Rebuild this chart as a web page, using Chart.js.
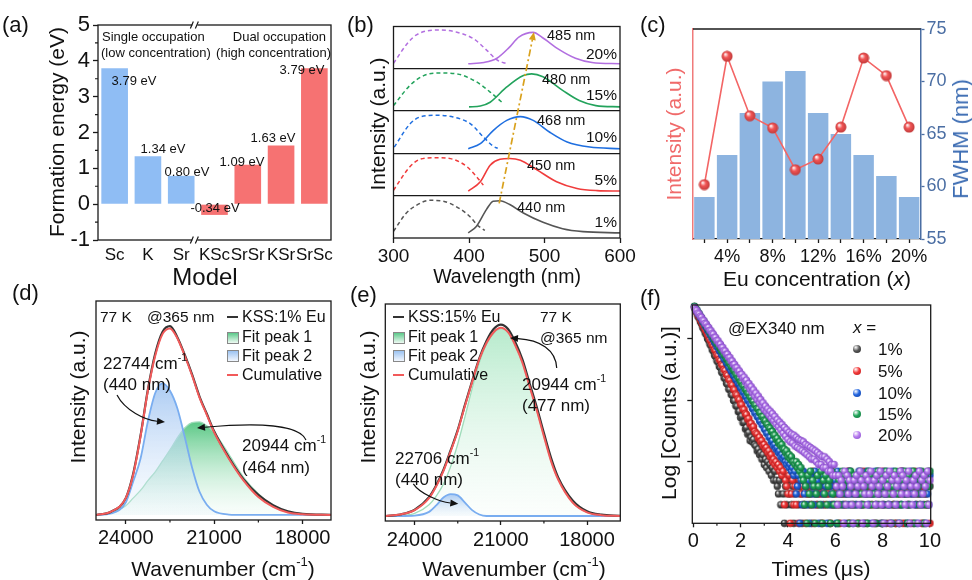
<!DOCTYPE html>
<html>
<head>
<meta charset="utf-8">
<script src="https://cdn.jsdelivr.net/npm/chart.js@4.4.0/dist/chart.umd.min.js"></script>
<style>
html, body { margin: 0; padding: 0; background: #fff; }
body { width: 972px; height: 580px; position: relative; overflow: hidden; font-family: 'Liberation Sans', Arial, sans-serif; color: #111; }
canvas { position: absolute; }
.t { position: absolute; white-space: nowrap; line-height: 1; }
.t sup { font-size: 0.62em; line-height: 0; vertical-align: 0.75em; }
.box { position: absolute; width: 10px; height: 10px; border: 1px solid #888; }
.ln { position: absolute; width: 11px; height: 2px; }
.dot { position: absolute; width: 8px; height: 8px; border-radius: 50%; }
</style>
</head>
<body>
<script>
// ---- (a) formation energy ----
const models = ['Sc', 'K', 'Sr', 'KSc', 'SrSr', 'KSr', 'SrSc'];
const formationEnergy = [3.79, 1.34, 0.79, -0.30, 1.10, 1.64, 3.79];
const energyLabels = ['3.79 eV', '1.34 eV', '0.80 eV', '-0.34 eV', '1.09 eV', '1.63 eV', '3.79 eV'];
const energyTicks = [-1, 0, 1, 2, 3, 4, 5];

// ---- (b) excitation (dashed) / emission (solid), [wavelength, norm. intensity] ----
const euLevels = ['1%', '5%', '10%', '15%', '20%'];
const peakLabels = ['440 nm', '450 nm', '468 nm', '480 nm', '485 nm'];
const exc1 = [[300,.16],[317,.59],[330,.77],[348,.89],[366,.87],[388,.69],[401,.51],[412,.29],[421,.18]];
const exc5 = [[300,.13],[322,.69],[335,.86],[357,.90],[379,.86],[397,.69],[410,.45],[419,.25]];
const exc10 = [[301,.15],[322,.70],[335,.86],[357,.90],[379,.86],[402,.70],[419,.39],[432,.17],[438,.12]];
const exc15 = [[300,.13],[322,.61],[340,.84],[362,.90],[384,.88],[410,.69],[428,.45],[446,.17]];
const exc20 = [[300,.13],[318,.59],[331,.81],[362,.92],[384,.865],[406,.71],[424,.43],[437,.21],[450,.12]];
const em1 = [[399,.12],[410,.28],[423,.67],[432,.87],[441,.88],[454,.79],[472,.59],[498,.37],[524,.22],[551,.15],[600,.12]];
const em5 = [[399,.11],[415,.33],[428,.72],[441,.86],[454,.88],[468,.84],[490,.61],[516,.33],[543,.17],[570,.12],[600,.11]];
const em10 = [[399,.11],[415,.23],[432,.54],[450,.78],[468,.87],[485,.78],[507,.50],[530,.27],[560,.15],[600,.11]];
const em15 = [[400,.10],[415,.12],[428,.21],[450,.57],[472,.84],[483,.88],[498,.81],[524,.49],[546,.25],[568,.13],[600,.10]];
const em20 = [[399,.12],[420,.15],[437,.25],[453,.50],[466,.75],[485,.86],[497,.74],[519,.46],[541,.25],[563,.15],[600,.12]];
const peakShift = [[440, 0.82], [486, 4.87]];
const wlTicks = [300, 400, 500, 600];

// ---- (c) concentration series ----
const concLabels = ['2%', '4%', '6%', '8%', '10%', '12%', '14%', '16%', '18%', '20%'];
const fwhm = [59, 63, 67, 70, 71, 67, 65, 63, 61, 59];
const intensityC = [25.9, 87.0, 58.7, 52.9, 33.0, 38.1, 53.3, 86.2, 77.8, 53.3];
const fwhmTicks = [55, 60, 65, 70, 75];

// ---- (d) KSS:1% Eu, 77 K ----
const wnD = [25000, 24500, 24000, 23750, 23500, 23250, 23000, 22750, 22500, 22250, 22000, 21750, 21500, 21250, 21000, 20500, 20000, 19500, 19000, 18500, 18000, 17040];
const measD = [.023, .038, .10, .21, .385, .595, .76, .86, .885, .835, .755, .665, .565, .485, .405, .285, .185, .115, .068, .040, .028, .024];
const cumD = [.023, .038, .10, .205, .38, .59, .75, .85, .875, .83, .75, .66, .56, .48, .40, .28, .18, .105, .06, .034, .026, .023];
const peak2D = [.023, .03, .08, .175, .28, .45, .58, .624, .59, .51, .38, .24, .13, .07, .04, .025, .023, .023, .023, .023, .023, .023];
const peak1D = [.023, .035, .065, .10, .135, .18, .22, .27, .32, .375, .42, .445, .448, .43, .40, .30, .195, .12, .065, .038, .027, .023];

// ---- (e) KSS:15% Eu, 77 K ----
const wnE = [25000, 24500, 24000, 23500, 23250, 23000, 22750, 22500, 22250, 22000, 21750, 21500, 21250, 21000, 20750, 20500, 20250, 20000, 19750, 19500, 19250, 19000, 18500, 18000, 17500, 16850];
const measE = [.023, .03, .052, .11, .165, .235, .325, .42, .535, .645, .75, .83, .885, .905, .885, .825, .745, .635, .525, .405, .29, .20, .095, .045, .029, .024];
const cumE = [.023, .03, .05, .105, .16, .23, .32, .415, .53, .64, .745, .82, .87, .89, .87, .81, .73, .62, .51, .39, .275, .19, .085, .04, .027, .023];
const peak1E = [.023, .025, .035, .075, .115, .17, .25, .355, .48, .61, .73, .815, .865, .885, .868, .81, .73, .62, .51, .39, .275, .19, .085, .04, .027, .023];
const peak2E = [.023, .023, .025, .042, .072, .108, .124, .118, .085, .05, .03, .023, .023, .023, .023, .023, .023, .023, .023, .023, .023, .023, .023, .023, .023, .023];
const wnTicks = [24000, 21000, 18000];

// ---- (f) decay: counts every 0.05 us from 0.05 us, then background counts (one digit per 0.05 us) ----
const decay1 = [3230, 2850, 2630, 2290, 2150, 1880, 1740, 1520, 1420, 1240, 1160, 1000, 940, 815, 765, 660, 625, 535, 510, 436,
  415, 352, 338, 285, 275, 231, 224, 188, 182, 151, 149, 124, 121, 99, 98, 81, 80, 65, 66, 52,
  55, 43, 44, 34, 36, 28, 30, 22, 25, 21, 23, 19, 18, 15, 16, 13, 14, 11, 13, 9, 11, 8, 10, 7, 9, 6, 8, 5, 7, 5];
const decay5 = [3260, 2920, 2710, 2420, 2260, 2010, 1880, 1670, 1570, 1390, 1305, 1150, 1090, 960, 905, 795, 755, 660, 630, 548,
  525, 455, 436, 378, 364, 315, 302, 262, 251, 218, 210, 181, 175, 150, 146, 125, 121, 104, 101, 86,
  84, 71, 70, 60, 58, 49, 50, 41, 42, 36, 37, 31, 29, 28, 24, 25, 21, 22, 18, 19, 16, 17, 14, 15, 12, 13, 10, 11, 9, 10, 8, 9, 7, 8, 6, 7];
const decay10 = [3300, 3010, 2850, 2580, 2440, 2200, 2100, 1880, 1800, 1610, 1545, 1380, 1325, 1180, 1135, 1010, 975, 865, 835, 740,
  715, 635, 615, 545, 528, 466, 452, 400, 388, 343, 332, 294, 285, 252, 244, 216, 210, 185, 180, 158,
  154, 136, 132, 116, 113, 99, 98, 86, 84, 73, 72, 62, 62, 54, 53, 46, 45, 40, 39, 34,
  33, 29, 29, 25, 25, 21, 22, 18, 19, 16, 17, 14, 15, 12, 13, 11, 12, 10, 9, 10, 8, 9, 7, 8, 6, 7];
const decay15 = [3330, 3040, 2900, 2620, 2520, 2270, 2190, 1960, 1900, 1700, 1650, 1475, 1430, 1280, 1240, 1105, 1075, 960, 935, 830,
  810, 720, 700, 625, 610, 540, 528, 468, 459, 406, 397, 352, 344, 305, 298, 265, 258, 229, 224, 199,
  195, 172, 169, 149, 146, 130, 127, 112, 110, 97, 95, 84, 83, 73, 72, 63, 62, 54, 54, 47,
  46, 41, 40, 36, 35, 31, 31, 27, 27, 23, 24, 20, 21, 18, 19, 16, 16, 14, 15, 12, 13, 11, 12, 10, 10, 9, 10, 8, 9, 7, 8, 6];
const decay20 = [3190, 2940, 2830, 2580, 2500, 2270, 2200, 1990, 1940, 1750, 1710, 1540, 1510, 1355, 1330, 1195, 1175, 1050, 1035, 925,
  915, 815, 806, 718, 712, 632, 625, 556, 553, 490, 490, 432, 430, 380, 380, 335, 335, 296, 296, 260,
  262, 225, 236, 198, 210, 172, 186, 150, 165, 132, 146, 115, 130, 102, 116, 90, 102, 80, 90, 70,
  80, 64, 72, 57, 66, 51, 60, 46, 54, 41, 48, 37, 44, 33, 40, 29, 36, 26, 33, 23,
  30, 21, 28, 20, 27, 18, 25, 17, 23, 16, 22, 15, 21, 14, 19, 13, 18, 12, 17, 11,
  16, 11, 15, 10, 14, 9, 13, 9, 12, 8, 12, 8, 11, 7, 10, 7, 9, 6, 9, 6];
const tail1 = '43526314253624135724316254325146352431625437152634251436253417263542315264351426354217364253142635241536274315263541426352415362743152633524';
const tail5 = '254361352427153426135432714253641352634172543621534263715424361534271635432516423517243651432615243716534261537425361423526143524';
const tail10 = '346152734251634273514263741524362517346251342736152437625143726513472635142736521473625142763512473652147362514326143524';
const tail15 = '5241637254136427153624517326415237462531742635147362541736253147256134725361427531625473162547136425731625473162535241';
const tail20 = '426354172635421536427514362537415263472513642715362451736425371425364172536417253524';
const timeTicks = [0, 2, 4, 6, 8, 10];
const countTicks = [10, 100, 1000];

// ---- helpers ----
const INK = '#1a1a1a';
Chart.defaults.font.family = "'Liberation Sans', Arial, sans-serif";
Chart.defaults.color = '#111';
Chart.defaults.animation = false;
Chart.defaults.responsive = false;
Chart.defaults.plugins.legend.display = false;
Chart.defaults.plugins.tooltip.enabled = false;

function panel(x, y, w, h) {
  const c = document.createElement('canvas');
  c.width = w; c.height = h;
  c.style.left = x + 'px'; c.style.top = y + 'px';
  document.body.appendChild(c);
  return c;
}
function put(html, x, y, size, o = {}) {
  const d = document.createElement('div');
  d.className = 't';
  d.innerHTML = html;
  d.style.fontSize = size + 'px';
  d.style.left = x + 'px';
  d.style.top = y + 'px';
  if (o.color) d.style.color = o.color;
  const ax = o.align === 'center' || o.rot ? '-50%' : o.align === 'right' ? '-100%' : '0';
  d.style.transform = 'translate(' + ax + ', -50%)' + (o.rot ? ' rotate(-90deg)' : '');
  document.body.appendChild(d);
}
function addDiv(cls, x, y, style) {
  const d = document.createElement('div');
  d.className = cls;
  d.style.left = x + 'px'; d.style.top = y + 'px';
  Object.assign(d.style, style || {});
  document.body.appendChild(d);
}
const fixSize = px => s => { if (s.isHorizontal()) s.height = px; else s.width = px; };
const setTicks = vals => s => { s.ticks = vals.map(v => ({ value: v })); };

function frame(chart) {
  const { ctx, chartArea: a } = chart;
  ctx.save();
  ctx.strokeStyle = INK; ctx.lineWidth = 1.3;
  ctx.strokeRect(a.left, a.top, a.right - a.left, a.bottom - a.top);
  ctx.restore();
}
function minorTicks(chart, axis, values, len) {
  const s = chart.scales[axis], a = chart.chartArea, ctx = chart.ctx;
  ctx.save();
  ctx.strokeStyle = INK; ctx.lineWidth = 1.2;
  ctx.beginPath();
  values.forEach(v => {
    const p = s.getPixelForValue(v);
    if (s.isHorizontal()) { ctx.moveTo(p, a.bottom); ctx.lineTo(p, a.bottom + len); }
    else { ctx.moveTo(a.left - len, p); ctx.lineTo(a.left, p); }
  });
  ctx.stroke();
  ctx.restore();
}
// curved / straight arrow given in data coordinates
function arrow(chart, pts, color, lw, dash) {
  const sx = chart.scales.x, sy = chart.scales.y, ctx = chart.ctx;
  const P = pts.map(([u, v]) => [sx.getPixelForValue(u), sy.getPixelForValue(v)]);
  const end = P[P.length - 1], prev = P[P.length - 2];
  const ang = Math.atan2(end[1] - prev[1], end[0] - prev[0]);
  const hl = 8, hw = 3.5;
  const bx = end[0] - hl * Math.cos(ang), by = end[1] - hl * Math.sin(ang);
  ctx.save();
  ctx.strokeStyle = color; ctx.fillStyle = color; ctx.lineWidth = lw;
  ctx.setLineDash(dash || []);
  ctx.beginPath();
  ctx.moveTo(P[0][0], P[0][1]);
  if (P.length === 4) ctx.bezierCurveTo(P[1][0], P[1][1], P[2][0], P[2][1], bx, by);
  else ctx.lineTo(bx, by);
  ctx.stroke();
  ctx.setLineDash([]);
  ctx.beginPath();
  ctx.moveTo(end[0], end[1]);
  ctx.lineTo(bx + hw * Math.sin(ang), by - hw * Math.cos(ang));
  ctx.lineTo(bx - hw * Math.sin(ang), by + hw * Math.cos(ang));
  ctx.closePath(); ctx.fill();
  ctx.restore();
}
function sphere(color, dark, r) {
  const s = Math.ceil(2 * r + 1);
  const c = document.createElement('canvas');
  c.width = s; c.height = s;
  const g = c.getContext('2d');
  const grd = g.createRadialGradient(s / 2 - r * 0.35, s / 2 - r * 0.4, r * 0.05, s / 2, s / 2, r);
  grd.addColorStop(0, '#ffffff');
  grd.addColorStop(0.45, color);
  grd.addColorStop(1, dark);
  g.fillStyle = grd;
  g.beginPath(); g.arc(s / 2, s / 2, r, 0, Math.PI * 2); g.fill();
  return c;
}
function vGradient(chart, values, top, bottom) {
  const sy = chart.scales.y;
  if (!sy || !chart.chartArea) return top;
  const y0 = sy.getPixelForValue(Math.max(...values));
  const y1 = sy.getPixelForValue(values[0]);
  const g = chart.ctx.createLinearGradient(0, y0, 0, y1);
  g.addColorStop(0, top);
  g.addColorStop(1, bottom);
  return g;
}

// ================= (a) =================
const BLUE_A = '#8fbdf4', RED_A = '#f67272';
new Chart(panel(0, 0, 341, 270), {
  type: 'bar',
  data: {
    labels: models,
    datasets: [{
      data: formationEnergy,
      backgroundColor: models.map((m, i) => i < 3 ? BLUE_A : RED_A),
      barPercentage: 0.8, categoryPercentage: 1
    }]
  },
  options: {
    devicePixelRatio: 1,
    layout: { padding: { top: 25, right: 10 } },
    scales: {
      x: { ticks: { font: { size: 17 }, padding: 5, maxRotation: 0, autoSkip: false },
           grid: { display: false, drawTicks: false }, border: { display: false }, afterFit: fixSize(30) },
      y: { min: -1, max: 5, afterBuildTicks: setTicks(energyTicks),
           ticks: { font: { size: 22 }, padding: 3 },
           grid: { drawOnChartArea: false, tickLength: 5, tickColor: INK, tickWidth: 1.3 },
           border: { display: false }, afterFit: fixSize(98) }
    }
  },
  plugins: [{ id: 'decoA', afterDraw(chart) {
    frame(chart);
    minorTicks(chart, 'y', [-0.5, 0.5, 1.5, 2.5, 3.5, 4.5], 3);
    const sx = chart.scales.x, a = chart.chartArea, ctx = chart.ctx;
    const x = (sx.getPixelForValue(models.indexOf('Sr')) + sx.getPixelForValue(models.indexOf('KSc'))) / 2 - 3;
    [a.top, a.bottom].forEach(y => {
      ctx.save();
      ctx.fillStyle = '#fff'; ctx.fillRect(x - 2.5, y - 2, 5, 4);
      ctx.strokeStyle = INK; ctx.lineWidth = 1.2;
      ctx.beginPath();
      ctx.moveTo(x - 4.5, y + 3.5); ctx.lineTo(x - 1.5, y - 3.5);
      ctx.moveTo(x + 0.5, y + 3.5); ctx.lineTo(x + 3.5, y - 3.5);
      ctx.stroke(); ctx.restore();
    });
  } }]
});
put('(a)', 2, 25, 22);
put('Formation energy (eV)', 56, 132, 21, { rot: true });
put('Model', 205, 277, 24, { align: 'center' });
put('Single occupation', 102, 35.5, 13);
put('(low concentration)', 101, 51.5, 13);
put('Dual occupation', 326, 35.5, 13, { align: 'right' });
put('(high concentration)', 331, 51.5, 13, { align: 'right' });
const energyLabelPos = [[134, 79.5], [163, 148], [187, 171], [215, 207], [242, 160.5], [273, 137], [302, 68.5]];
energyLabels.forEach((s, i) => put(s, energyLabelPos[i][0], energyLabelPos[i][1], 13, { align: 'center' }));

// ================= (b) =================
const bColors = ['#555555', '#f03c3c', '#1f6fe0', '#23a35c', '#b26fe0'];
const excitation = [exc1, exc5, exc10, exc15, exc20];
const emission = [em1, em5, em10, em15, em20];
const bSets = [];
excitation.forEach((curve, i) => bSets.push({
  data: curve.map(([x, y]) => ({ x, y: y + i })), borderColor: bColors[i], borderWidth: 1.5, borderDash: [4, 3]
}));
emission.forEach((curve, i) => bSets.push({
  data: curve.map(([x, y]) => ({ x, y: y + i })), borderColor: bColors[i], borderWidth: 1.6
}));
new Chart(panel(340, 0, 300, 270), {
  type: 'line',
  data: { datasets: bSets },
  options: {
    devicePixelRatio: 1,
    layout: { padding: { top: 26.5, right: 20 } },
    elements: { point: { radius: 0 }, line: { cubicInterpolationMode: 'monotone' } },
    scales: {
      x: { type: 'linear', min: 300, max: 600, afterBuildTicks: setTicks(wlTicks),
           ticks: { font: { size: 19 }, padding: 2.5, callback: v => String(v) },
           grid: { drawOnChartArea: false, tickLength: 5, tickColor: INK, tickWidth: 1.3 },
           border: { display: false }, afterFit: fixSize(32) },
      y: { min: 0, max: 5, afterBuildTicks: setTicks([0, 1, 2, 3, 4, 5]), ticks: { display: false },
           grid: { drawTicks: false, lineWidth: 1.3, color: c => (c.tick && c.tick.value > 0 && c.tick.value < 5) ? INK : 'rgba(0,0,0,0)' },
           border: { display: false }, afterFit: fixSize(53.5) }
    }
  },
  plugins: [{ id: 'decoB', afterDraw(chart) {
    frame(chart);
    arrow(chart, peakShift, '#d9a11c', 1.7, [7, 3, 2, 3]);
  } }]
});
put('(b)', 347, 25, 22);
put('Intensity (a.u.)', 377, 124, 21, { rot: true });
put('Wavelength (nm)', 507, 277, 19.5, { align: 'center' });
const peakLabelPos = [[517, 206.5], [527, 165], [537, 120], [542, 79], [547, 34.5]];
const levelLabelY = [221.5, 180, 136.5, 94.5, 53.5];
peakLabels.forEach((s, i) => {
  put(s, peakLabelPos[i][0], peakLabelPos[i][1], 14.5);
  put(euLevels[i], 617, levelLabelY[i], 15.5, { align: 'right' });
});

// ================= (c) =================
const FW_COLOR = '#4b6ea3', INT_COLOR = '#f06a6a';
new Chart(panel(650, 0, 322, 270), {
  type: 'bar',
  data: {
    labels: concLabels,
    datasets: [
      { type: 'line', data: intensityC, yAxisID: 'y', order: 0, borderColor: '#f36565', borderWidth: 1.6,
        pointStyle: sphere('#f25656', '#c23a3a', 5.5), pointRadius: 5.5, tension: 0 },
      { type: 'bar', data: fwhm, yAxisID: 'y2', order: 1, backgroundColor: '#8db4e0',
        barPercentage: 0.9, categoryPercentage: 1 }
    ]
  },
  options: {
    devicePixelRatio: 1,
    layout: { padding: { top: 29 } },
    scales: {
      x: { ticks: { font: { size: 18 }, padding: 3, maxRotation: 0, autoSkip: false,
                    callback: (v, i) => i % 2 === 1 ? concLabels[i] : '' },
           grid: { offset: false, drawOnChartArea: false, tickLength: 4, tickColor: INK, tickWidth: 1.3 },
           border: { color: INK, width: 1.3 }, afterFit: fixSize(31) },
      y: { position: 'left', min: 0, max: 100, ticks: { display: false }, grid: { display: false },
           border: { color: '#f07a7a', width: 1.5 }, afterFit: fixSize(43) },
      y2: { position: 'right', min: 55, max: 75, afterBuildTicks: setTicks(fwhmTicks),
            ticks: { font: { size: 18 }, padding: 2, color: FW_COLOR },
            grid: { drawOnChartArea: false, tickLength: 4, tickColor: FW_COLOR, tickWidth: 1.3 },
            border: { color: FW_COLOR, width: 1.5 }, afterFit: fixSize(51.5) }
    }
  },
  plugins: [{ id: 'decoC', afterDraw(chart) {
    const { ctx, chartArea: a } = chart;
    ctx.save(); ctx.strokeStyle = INK; ctx.lineWidth = 1.5;
    ctx.beginPath(); ctx.moveTo(a.left, a.top); ctx.lineTo(a.right, a.top); ctx.stroke();
    ctx.restore();
  } }]
});
put('(c)', 640, 25, 22);
put('Intensity (a.u.)', 673, 134, 21, { rot: true, color: INT_COLOR });
put('FWHM (nm)', 961, 139, 22, { rot: true, color: '#3d6db3' });
put('Eu concentration (<i>x</i>)', 817, 278, 21, { align: 'center' });

// ================= (d) & (e) spectra =================
function spectrumSets(wn, meas, cum, pk1, pk2, greenTop, greenBot) {
  const pts = ys => wn.map((w, i) => ({ x: w, y: ys[i] }));
  return [
    { data: pts(pk1), order: 4, borderColor: '#9fdcba', borderWidth: 1.3, fill: { value: pk1[0] },
      backgroundColor: c => vGradient(c.chart, pk1, greenTop, greenBot) },
    { data: pts(pk2), order: 3, borderColor: '#79adf0', borderWidth: 1.8, fill: { value: pk2[0] },
      backgroundColor: c => vGradient(c.chart, pk2, 'rgba(150,190,240,0.8)', 'rgba(225,238,252,0.2)') },
    { data: pts(meas), order: 2, borderColor: '#333333', borderWidth: 2.2 },
    { data: pts(cum), order: 1, borderColor: '#f25a5a', borderWidth: 2 }
  ];
}
function spectrumOptions(xMin, xMax, left, right, top, bottom, pad) {
  return {
    devicePixelRatio: 1,
    layout: { padding: { top: top, right: right } },
    elements: { point: { radius: 0 }, line: { cubicInterpolationMode: 'monotone' } },
    scales: {
      x: { type: 'linear', reverse: true, min: xMin, max: xMax, afterBuildTicks: setTicks(wnTicks),
           ticks: { font: { size: 20 }, padding: pad, callback: v => String(v) },
           grid: { drawOnChartArea: false, tickLength: 4, tickColor: INK, tickWidth: 1.3 },
           border: { display: false }, afterFit: fixSize(bottom) },
      y: { min: 0, max: 1, ticks: { display: false }, grid: { display: false },
           border: { display: false }, afterFit: fixSize(left) }
    }
  };
}
new Chart(panel(0, 290, 345, 290), {
  type: 'line',
  data: { datasets: spectrumSets(wnD, measD, cumD, peak1D, peak2D, 'rgba(62,190,112,0.85)', 'rgba(215,245,228,0.15)') },
  options: spectrumOptions(17035, 25010, 96, 14, 11, 60, 2),
  plugins: [{ id: 'decoD', afterDraw(chart) {
    frame(chart);
    minorTicks(chart, 'x', [22500, 19500], 2.5);
    arrow(chart, [[24297, .571], [24026, .50], [23347, .457], [22669, .447]], '#111', 1.2);
    arrow(chart, [[17885, .365], [18088, .434], [19446, .447], [21583, .42]], '#111', 1.2);
  } }]
});
new Chart(panel(345, 290, 295, 290), {
  type: 'line',
  data: { datasets: spectrumSets(wnE, measE, cumE, peak1E, peak2E, 'rgba(160,228,188,0.75)', 'rgba(240,251,244,0.25)') },
  options: spectrumOptions(16841, 25023, 40.3, 19.7, 14, 59, 3),
  plugins: [{ id: 'decoE', afterDraw(chart) {
    frame(chart);
    minorTicks(chart, 'x', [22500, 19500], 2.5);
    arrow(chart, [[19055, .705], [19079, .789], [19636, .835], [20681, .843]], '#111', 1.2);
    arrow(chart, [[24048, .171], [23815, .125], [23118, .088], [22481, .079]], '#111', 1.2);
  } }]
});
function spectrumLegend(x, name, y0) {
  addDiv('ln', x, y0 - 1, { background: '#333' });
  put(name, x + 15, y0, 16);
  addDiv('box', x, y0 + 14.5, { background: 'linear-gradient(#5cc98a, #eefaf3)' });
  put('Fit peak 1', x + 15, y0 + 20, 16);
  addDiv('box', x, y0 + 33, { background: 'linear-gradient(#9cc3f2, #f2f7fe)' });
  put('Fit peak 2', x + 15, y0 + 38.5, 16);
  addDiv('ln', x, y0 + 56.5, { background: '#f25a5a' });
  put('Cumulative', x + 15, y0 + 57.5, 16);
}
put('(d)', 12, 293, 22);
put('Intensity (a.u.)', 77, 397, 21, { rot: true });
put('Wavenumber (cm<sup>-1</sup>)', 223, 568, 21, { align: 'center' });
put('77 K', 100, 317, 15.5);
put('@365 nm', 147, 317, 15.5);
spectrumLegend(227, 'KSS:1% Eu', 317);
put('22744 cm<sup>-1</sup>', 103, 363, 17);
put('(440 nm)', 103, 383.5, 17);
put('20944 cm<sup>-1</sup>', 242, 445, 17);
put('(464 nm)', 242, 467, 17);

put('(e)', 350, 295, 22);
put('Intensity (a.u.)', 367, 397, 21, { rot: true });
put('Wavenumber (cm<sup>-1</sup>)', 514, 568, 21, { align: 'center' });
spectrumLegend(393, 'KSS:15% Eu', 317);
put('77 K', 540, 317, 15.5);
put('@365 nm', 540, 337.5, 15.5);
put('20944 cm<sup>-1</sup>', 522, 384, 17);
put('(477 nm)', 522, 405, 17);
put('22706 cm<sup>-1</sup>', 395, 458, 17);
put('(440 nm)', 395, 478.5, 17);

// ================= (f) decay =================
function decaySeries(decay, tail) {
  const pts = decay.map((c, i) => ({ x: 0.05 * (i + 1), y: c }));
  const t0 = 0.05 * (decay.length + 1);
  for (let i = 0; i < tail.length; i++) {
    const t = t0 + 0.05 * i;
    if (t > 10.001) break;
    pts.push({ x: t, y: Number(tail[i]) });
  }
  return pts;
}
const fColors = [['#5a5a5a', '#262626'], ['#f23a3a', '#b81c1c'], ['#2466e0', '#123f9c'], ['#22a55a', '#12703a'], ['#b67cef', '#8448c4']];
const decays = [[decay1, tail1], [decay5, tail5], [decay10, tail10], [decay15, tail15], [decay20, tail20]];
new Chart(panel(650, 290, 322, 290), {
  type: 'scatter',
  data: {
    datasets: decays.map(([d, t], i) => ({
      data: decaySeries(d, t), order: 5 - i, clip: false,
      pointStyle: sphere(fColors[i][0], fColors[i][1], 3.7), pointRadius: 3.7
    }))
  },
  options: {
    devicePixelRatio: 1,
    layout: { padding: { top: 15, right: 41.3 } },
    scales: {
      x: { type: 'linear', min: -0.04, max: 10.03, afterBuildTicks: setTicks(timeTicks),
           ticks: { font: { size: 20 }, padding: 2.5, callback: v => String(v) },
           grid: { drawOnChartArea: false, tickLength: 4, tickColor: INK, tickWidth: 1.3 },
           border: { display: false }, afterFit: fixSize(56.7) },
      y: { type: 'logarithmic', min: 1, max: 3500, afterBuildTicks: setTicks(countTicks), ticks: { display: false },
           grid: { drawOnChartArea: false, tickLength: 5, tickColor: INK, tickWidth: 1.3 },
           border: { display: false }, afterFit: fixSize(42.3) }
    }
  },
  plugins: [{ id: 'decoF', afterDraw(chart) {
    frame(chart);
    minorTicks(chart, 'x', [1, 3, 5, 7, 9], 2.5);
  } }]
});
put('(f)', 640, 298, 22);
put('Log [Counts (a.u.)]', 668, 413, 21, { rot: true });
put('Times (μs)', 821, 568, 21, { align: 'center' });
put('@EX340 nm', 728, 328, 17);
put('<i>x</i> =', 853, 327, 17);
const legendY = [348.5, 371, 392.5, 413.5, 435];
euLevels.forEach((s, i) => {
  addDiv('dot', 853.3, legendY[i] - 4, { background: 'radial-gradient(circle at 35% 30%, #fff 0%, ' + fColors[i][0] + ' 45%, ' + fColors[i][1] + ' 100%)' });
  put(s, 878, legendY[i], 17);
});
</script>
</body>
</html>
